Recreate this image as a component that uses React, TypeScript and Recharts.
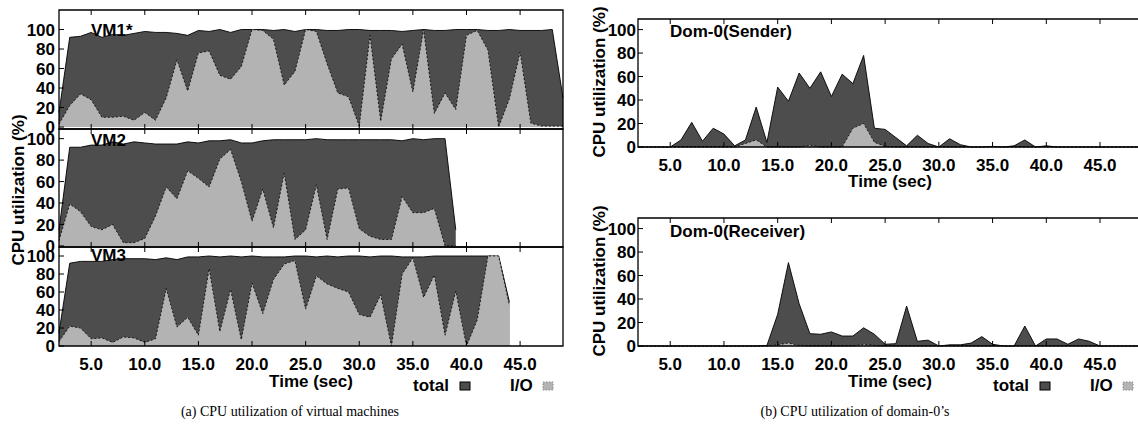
import React from "react";
import { ComposedChart, Area, XAxis, YAxis, ReferenceArea } from "recharts";

// time axis (sec), one sample per second
const TIME = [
  2, 3, 4, 5, 6, 7, 8, 9, 10, 11, 12, 13, 14, 15, 16, 17, 18, 19, 20, 21, 22, 23, 24, 25,
  26, 27, 28, 29, 30, 31, 32, 33, 34, 35, 36, 37, 38, 39, 40, 41, 42, 43, 44, 45, 46, 47, 48, 49,
];
const X_TICKS = [5, 10, 15, 20, 25, 30, 35, 40, 45];
const Y_TICKS = [0, 20, 40, 60, 80, 100];

const VM1_TOTAL = [
  15, 92, 93, 97, 92, 95, 94, 96, 98, 97, 97, 96, 94, 99, 98, 100, 97, 100, 100, 100, 99, 100, 98, 100,
  100, 99, 99, 100, 100, 99, 99, 99, 98, 99, 100, 99, 99, 100, 100, 100, 99, 99, 100, 99, 99, 99, 100, 30,
];
const VM1_IO = [
  3, 22, 34, 28, 10, 10, 11, 7, 15, 7, 30, 69, 37, 76, 78, 53, 49, 62, 100, 99, 90, 43, 57, 100,
  98, 65, 35, 31, 1, 94, 6, 70, 85, 36, 100, 14, 35, 18, 94, 99, 79, 0, 29, 77, 4, 1, 1, 1,
];
const VM2_TOTAL = [
  15, 92, 92, 94, 94, 97, 95, 97, 96, 95, 95, 95, 97, 96, 98, 98, 99, 96, 96, 98, 99, 99, 99, 99,
  100, 99, 99, 99, 99, 99, 99, 99, 98, 100, 99, 100, 100, 15, null, null, null, null, null, null, null, null, null, null,
];
const VM2_IO = [
  5, 39, 32, 18, 15, 20, 3, 3, 7, 28, 55, 44, 70, 63, 55, 81, 90, 60, 23, 53, 17, 68, 6, 15,
  57, 6, 53, 54, 16, 9, 6, 6, 46, 31, 31, 35, 0, 0, null, null, null, null, null, null, null, null, null, null,
];
const VM3_TOTAL = [
  15, 92, 94, 94, 94, 96, 97, 97, 97, 96, 98, 96, 99, 99, 100, 99, 100, 99, 100, 99, 99, 99, 100, 100,
  99, 100, 99, 100, 100, 99, 100, 100, 99, 99, 99, 100, 100, 100, 100, 100, 100, 100, 49, null, null, null, null, null,
];
const VM3_IO = [
  5, 22, 20, 8, 9, 4, 10, 9, 4, 8, 64, 21, 32, 12, 86, 16, 63, 7, 70, 36, 74, 91, 95, 41,
  78, 69, 64, 60, 35, 32, 57, 0, 80, 98, 54, 79, 12, 61, 0, 29, 100, 100, 45, null, null, null, null, null,
];
const SENDER_TOTAL = [
  0, 0, 0, 0, 6, 21, 5, 16, 11, 1, 6, 34, 4, 51, 39, 63, 50, 64, 43, 62, 54, 78, 16, 15,
  8, 1, 10, 3, 0, 7, 2, 0, 0, 0.5, 0, 1, 6, 0, 1, 0, 0, 0, 0, 0, 0, 0, 0, 0,
];
const SENDER_IO = [
  0, 0, 0, 0, 0, 0, 0, 0, 0, 0, 3, 6, 0, 0, 0, 0, 1.5, 0, 0, 0, 16, 20, 4, 0.5,
  0, 0, 0, 0, 0, 0, 0, 0, 0, 0, 0, 0, 0, 0, 0, 0, 0, 0, 0, 0, 0, 0, 0, 0,
];
const RECEIVER_TOTAL = [
  0, 0, 0, 0, 0, 0, 0, 0, 0, 0, 0, 0, 0.5, 27, 71, 36, 10.5, 10, 12, 8.5, 8.5, 15.5, 10, 1.5,
  2, 34, 4, 5, 0, 1, 1, 2.5, 8, 1.5, 0, 0, 17, 0, 6, 6, 1.5, 6, 4, 0, 0, 0, 0, 0,
];
const RECEIVER_IO = [
  0, 0, 0, 0, 0, 0, 0, 0, 0, 0, 0, 0, 0, 1, 2.5, 0.5, 0, 0, 0, 0, 0, 1.5, 0.5, 0,
  0, 0, 0, 0, 0, 0, 0, 0, 0, 0, 0, 0, 0, 0, 0, 0, 0, 0, 0, 0, 0, 0, 0, 0,
];

const DARK = "#4d4d4d";
const LIGHT = "#b3b3b3";
const FONT = '"Liberation Sans", Arial, Helvetica, sans-serif';
const BOLD = { fontFamily: FONT, fontWeight: 700, fontSize: 17, fill: "#000" };
const TICK_LEN = 5;

const build = (total: (number | null)[], io: (number | null)[]) =>
  TIME.map((t, i) => ({ t, total: total[i], io: io[i] }));

// tick renderers: draw an inward tick mark at the axis plus the label outside
// (axis position = tick position + tickSize + tickMargin, which is 1 + gap)
const leftTick = (gap: number) => (p: any) => (
  <g>
    <line x1={p.x + gap} x2={p.x + gap + TICK_LEN} y1={p.y} y2={p.y} stroke="#000" />
    <text x={p.x} y={p.y} dy="0.36em" textAnchor="end" style={BOLD}>
      {p.payload.value}
    </text>
  </g>
);
const bottomTick = (gap: number, labels: boolean) => (p: any) => (
  <g>
    <line x1={p.x} x2={p.x} y1={p.y - gap} y2={p.y - gap - TICK_LEN} stroke="#000" />
    {labels && (
      <text x={p.x} y={p.y} dy="0.72em" textAnchor="middle" style={BOLD}>
        {p.payload.value.toFixed(1)}
      </text>
    )}
  </g>
);
const topTick = (p: any) => (
  <line x1={p.x} x2={p.x} y1={p.y + 1} y2={p.y + 1 + TICK_LEN} stroke="#000" />
);
const rightTick = (p: any) => (
  <line x1={p.x - 1} x2={p.x - 1 - TICK_LEN} y1={p.y} y2={p.y} stroke="#000" />
);

interface PanelProps {
  total: (number | null)[];
  io: (number | null)[];
  left: number;
  top: number;
  width: number;
  plotHeight: number;
  yDomain: [number, number];
  labelGap: number;
  showX: boolean;
}

function Panel({ total, io, left, top, width, plotHeight, yDomain, labelGap, showX }: PanelProps) {
  const data = build(total, io);
  const axisH = showX ? 40 : 1;
  return (
    <div style={{ position: "absolute", left, top }}>
      <ComposedChart
        width={width}
        height={plotHeight + axisH + 1}
        data={data}
        margin={{ top: 0, right: 0, bottom: 0, left: 0 }}
      >
        <Area
          xAxisId="b"
          yAxisId="l"
          type="linear"
          dataKey="total"
          baseValue={0}
          fill={DARK}
          fillOpacity={1}
          stroke="#000"
          strokeWidth={0.9}
          isAnimationActive={false}
          dot={false}
          activeDot={false}
        />
        <Area
          xAxisId="b"
          yAxisId="l"
          type="linear"
          dataKey="io"
          baseValue={0}
          fill={LIGHT}
          fillOpacity={1}
          stroke="#000"
          strokeWidth={0.8}
          strokeDasharray="2 2"
          isAnimationActive={false}
          dot={false}
          activeDot={false}
        />
        <XAxis
          xAxisId="b"
          dataKey="t"
          type="number"
          domain={[2, 49]}
          ticks={X_TICKS}
          interval={0}
          height={axisH}
          tickSize={1}
          tickMargin={11}
          tick={bottomTick(12, showX)}
          axisLine={false}
          tickLine={false}
        />
        <XAxis
          xAxisId="t"
          orientation="top"
          dataKey="t"
          type="number"
          domain={[2, 49]}
          ticks={X_TICKS}
          interval={0}
          height={1}
          tickSize={1}
          tickMargin={0}
          tick={topTick}
          axisLine={false}
          tickLine={false}
        />
        <YAxis
          yAxisId="l"
          type="number"
          domain={yDomain}
          ticks={Y_TICKS}
          interval={0}
          width={59}
          tickSize={1}
          tickMargin={labelGap - 1}
          tick={leftTick(labelGap)}
          axisLine={false}
          tickLine={false}
        />
        <YAxis
          yAxisId="r"
          orientation="right"
          type="number"
          domain={yDomain}
          ticks={Y_TICKS}
          interval={0}
          width={1}
          tickSize={1}
          tickMargin={0}
          tick={rightTick}
          axisLine={false}
          tickLine={false}
        />
        <ReferenceArea
          xAxisId="b"
          yAxisId="l"
          x1={2}
          x2={49}
          y1={yDomain[0]}
          y2={yDomain[1]}
          fill="none"
          fillOpacity={0}
          stroke="#000"
          strokeWidth={1.3}
          ifOverflow="visible"
        />
      </ComposedChart>
    </div>
  );
}

function LegendBox({ x }: { x: number }) {
  return (
    <g>
      <text x={x} y={391} style={BOLD}>total</text>
      <rect x={x + 47} y={382} width={10} height={8} fill={DARK} stroke="#000" strokeWidth={1} />
      <text x={x + 97} y={391} style={BOLD}>I/O</text>
      <rect x={x + 130} y={382} width={10} height={8} fill={LIGHT} stroke="#888" strokeWidth={1} strokeDasharray="1.5 1.5" />
    </g>
  );
}

const SERIF = { fontFamily: '"Liberation Serif", "Times New Roman", serif', fontSize: 14, fill: "#000" };

export default function App() {
  return (
    <div
      style={{
        position: "absolute",
        left: 0,
        top: 0,
        width: 1138,
        height: 429,
        overflow: "hidden",
        background: "#fff",
      }}
    >
      <style>{`.recharts-surface{overflow:visible}`}</style>
      <Panel total={VM1_TOTAL} io={VM1_IO} left={0} top={9} width={564} plotHeight={119} yDomain={[-2, 120]} labelGap={4} showX={false} />
      <Panel total={VM2_TOTAL} io={VM2_IO} left={0} top={128} width={564} plotHeight={118} yDomain={[-1, 109]} labelGap={4} showX={false} />
      <Panel total={VM3_TOTAL} io={VM3_IO} left={0} top={246} width={564} plotHeight={99} yDomain={[0, 110]} labelGap={4} showX={true} />
      <Panel total={SENDER_TOTAL} io={SENDER_IO} left={579} top={18} width={565} plotHeight={128} yDomain={[0, 109]} labelGap={2} showX={true} />
      <Panel total={RECEIVER_TOTAL} io={RECEIVER_IO} left={579} top={217} width={565} plotHeight={128} yDomain={[0, 109]} labelGap={2} showX={true} />
      <svg
        width={1138}
        height={429}
        style={{ position: "absolute", left: 0, top: 0, pointerEvents: "none" }}
      >
        <text x={91} y={36} style={BOLD}>VM1*</text>
        <text x={91} y={146} style={BOLD}>VM2</text>
        <text x={91} y={261} style={BOLD}>VM3</text>
        <text x={670} y={37} style={BOLD}>Dom-0(Sender)</text>
        <text x={670} y={237} style={BOLD}>Dom-0(Receiver)</text>
        <text x={18} y={190} style={BOLD} textAnchor="middle" dominantBaseline="central" transform="rotate(-90 18 190)">
          CPU utilization (%)
        </text>
        <text x={599} y={82} style={BOLD} textAnchor="middle" dominantBaseline="central" transform="rotate(-90 599 82)">
          CPU utilization (%)
        </text>
        <text x={599} y={281} style={BOLD} textAnchor="middle" dominantBaseline="central" transform="rotate(-90 599 281)">
          CPU utilization (%)
        </text>
        <text x={311} y={387} style={BOLD} textAnchor="middle">Time (sec)</text>
        <text x={890} y={187} style={BOLD} textAnchor="middle">Time (sec)</text>
        <text x={890} y={387} style={BOLD} textAnchor="middle">Time (sec)</text>
        <LegendBox x={413} />
        <LegendBox x={993} />
        <text x={290} y={416} textAnchor="middle" style={SERIF}>
          (a) CPU utilization of virtual machines
        </text>
        <text x={855} y={416} textAnchor="middle" style={SERIF}>
          (b) CPU utilization of domain-0’s
        </text>
      </svg>
    </div>
  );
}
